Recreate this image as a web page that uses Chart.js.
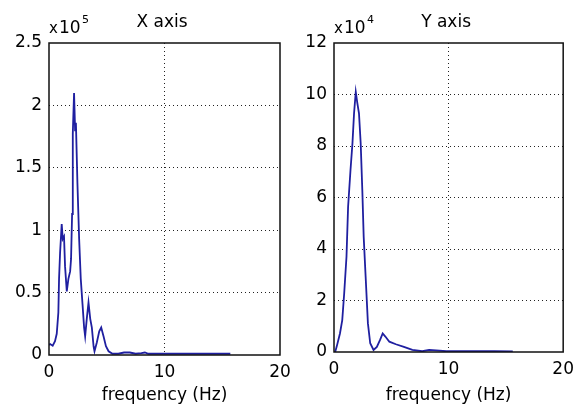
<!DOCTYPE html>
<html>
<head>
<meta charset="utf-8">
<script src="https://cdn.jsdelivr.net/npm/chart.js@4"></script>
<style>
  html, body { margin: 0; padding: 0; background: #fff; }
  #wrap { position: relative; width: 581px; height: 408px; }
  #wrap canvas { position: absolute; left: 0; top: 0; }
</style>
</head>
<body>
<div id="wrap">
  <canvas id="chartX" width="581" height="408"></canvas>
  <canvas id="chartY" width="581" height="408"></canvas>
</div>
<script>
// X axis spectrum (frequency in Hz, amplitude)
const freqX = [0, 0.1, 0.32, 0.52, 0.67, 0.81, 0.87, 0.96, 1.1, 1.19, 1.3, 1.39, 1.54, 1.68, 1.83, 1.91,
  2.0, 2.06, 2.17, 2.26, 2.33, 2.46, 2.61, 2.75, 2.9, 3.04, 3.13, 3.27, 3.42, 3.57, 3.71, 3.86, 3.94,
  4.14, 4.35, 4.52, 4.72, 4.93, 5.16, 5.5, 6.0, 6.5, 7.0, 7.5, 8.0, 8.3, 8.6, 9.5, 11, 12.5, 14, 15.7];
const ampX = [8000, 8800, 7400, 11000, 17000, 34000, 61000, 82000, 105000, 93000, 95000, 71000, 51000,
  61000, 67000, 77000, 113000, 177000, 210000, 180000, 186000, 138000, 93000, 61000, 41000, 22000,
  15000, 29000, 42000, 29000, 22000, 7000, 3000, 10000, 19000, 22000, 15000, 7000, 3000, 1000, 1000,
  2000, 2000, 1000, 1500, 2000, 1000, 1000, 1000, 1000, 1000, 1000];

// Y axis spectrum
const freqY = [0.1, 0.23, 0.52, 0.72, 0.89, 1.09, 1.23, 1.44, 1.61, 1.75, 1.9, 2.04, 2.18, 2.33, 2.47,
  2.59, 2.76, 2.96, 3.16, 3.45, 3.74, 4.02, 4.25, 4.48, 4.83, 5.4, 6.1, 6.84, 7.7, 8.3, 8.9, 9.8, 11,
  12.5, 14, 15.6];
const ampY = [0, 2000, 7200, 12400, 22800, 37000, 56400, 70700, 81000, 92700, 101000, 96600, 92700,
  81000, 63000, 44800, 29300, 11100, 3400, 800, 2000, 4700, 7200, 6000, 4000, 3000, 2000, 800, 300,
  800, 600, 300, 300, 300, 300, 200];

const xTicks = [0, 10, 20];
const titles = ['X axis', 'Y axis'];
const exponents = ['5', '4'];

const FONT = 'DejaVu Sans';
const LINE_COLOR = '#1f1fa0';

Chart.defaults.font.family = FONT;
Chart.defaults.font.size = 17;
Chart.defaults.color = '#000';

// 畫外框、標題和 x10^n
const framePlugin = {
  id: 'frame',
  afterDraw(chart, args, opts) {
    const ctx = chart.ctx;
    const a = chart.chartArea;
    ctx.save();
    ctx.strokeStyle = '#111';
    ctx.lineWidth = 1.5;
    ctx.strokeRect(a.left, a.top, a.right - a.left, a.bottom - a.top);

    ctx.fillStyle = '#000';
    ctx.textBaseline = 'alphabetic';
    ctx.font = '17px ' + FONT;
    ctx.textAlign = 'center';
    ctx.fillText(opts.title, (a.left + a.right) / 2 - 2.5, 27);

    ctx.textAlign = 'left';
    ctx.font = '15px ' + FONT;
    ctx.fillText('x', a.left, 33);
    ctx.font = '17px ' + FONT;
    ctx.fillText('10', a.left + 10, 33);
    ctx.font = '11px ' + FONT;
    ctx.fillText(opts.exp, a.left + 33, 23);
    ctx.restore();
  }
};

function gridColor(max) {
  return c => (c.tick && (c.tick.value === 0 || c.tick.value === max)) ? 'rgba(0,0,0,0)' : '#222';
}

function makeChart(id, freq, amp, cfg) {
  const points = freq.map((f, i) => ({ x: f, y: amp[i] }));
  return new Chart(document.getElementById(id), {
    type: 'line',
    data: {
      datasets: [{
        data: points,
        borderColor: LINE_COLOR,
        borderWidth: 1.8,
        pointRadius: 0,
        tension: 0,
        fill: false
      }]
    },
    options: {
      responsive: false,
      animation: false,
      layout: { padding: { left: 0, right: cfg.padRight, top: 43, bottom: 0 } },
      plugins: {
        legend: { display: false },
        tooltip: { enabled: false },
        frame: { title: cfg.title, exp: cfg.exp }
      },
      scales: {
        x: {
          type: 'linear',
          min: 0,
          max: 20,
          afterBuildTicks: s => { s.ticks = xTicks.map(v => ({ value: v })); },
          afterFit: s => { s.height = cfg.xHeight; },
          ticks: { padding: 7, maxRotation: 0 },
          grid: { color: gridColor(20), lineWidth: 1, drawTicks: false, borderDash: [1, 3] },
          border: { display: false, dash: [1, 3] },
          title: { display: true, text: 'frequency (Hz)', padding: { top: 0, bottom: 2 } }
        },
        y: {
          min: 0,
          max: cfg.yMax,
          afterFit: s => { s.width = cfg.yWidth; },
          ticks: { stepSize: cfg.yStep, padding: 7, callback: v => String(v / cfg.scale) },
          grid: { color: gridColor(cfg.yMax), lineWidth: 1, drawTicks: false, borderDash: [1, 3] },
          border: { display: false, dash: [1, 3] }
        }
      }
    },
    plugins: [framePlugin]
  });
}

makeChart('chartX', freqX, ampX, {
  title: titles[0], exp: exponents[0], scale: 1e5,
  yMax: 250000, yStep: 50000, yWidth: 49, xHeight: 53, padRight: 301
});
makeChart('chartY', freqY, ampY, {
  title: titles[1], exp: exponents[1], scale: 1e4,
  yMax: 120000, yStep: 20000, yWidth: 334, xHeight: 56, padRight: 15
});
</script>
</body>
</html>
